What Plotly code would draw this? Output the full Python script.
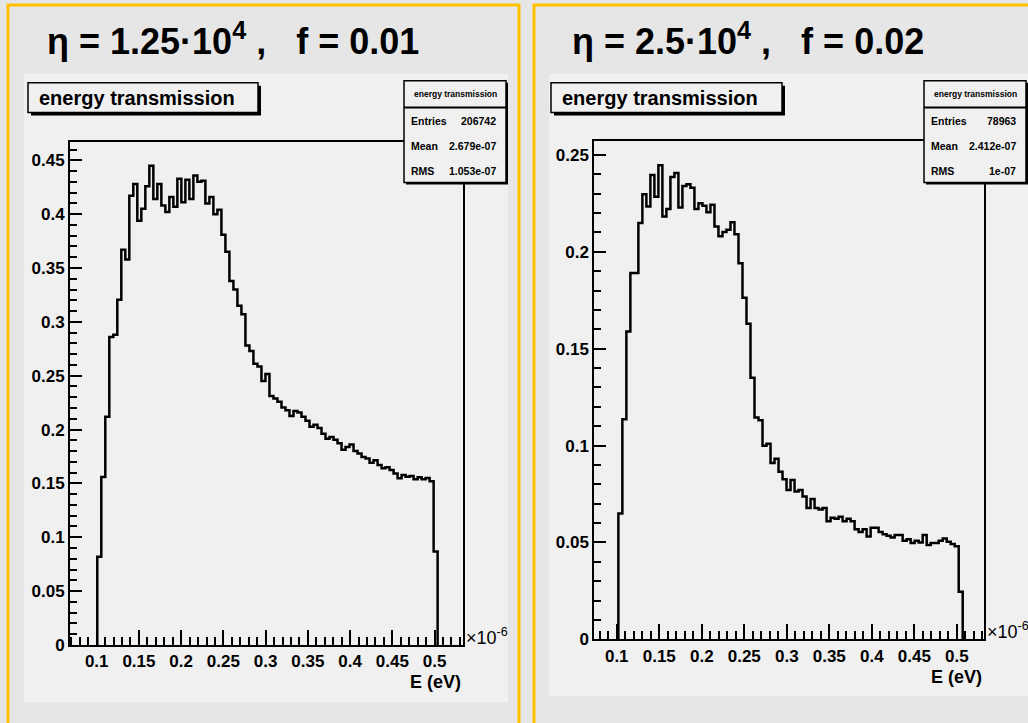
import plotly.graph_objects as go

W, H = 1028, 723

# ---------------- data ----------------
left_bin_start = 0.1007
left_bin_width = 0.00474
left_counts = [
    0.082, 0.156, 0.212, 0.286, 0.288, 0.3205, 0.367, 0.358, 0.417, 0.428,
    0.394, 0.405, 0.426, 0.445, 0.414, 0.428, 0.408, 0.402, 0.416, 0.407,
    0.433, 0.411, 0.432, 0.414, 0.436, 0.430, 0.431, 0.410, 0.416, 0.400,
    0.404, 0.381, 0.365, 0.338, 0.330, 0.315, 0.307, 0.278, 0.273, 0.261,
    0.2585, 0.245, 0.2515, 0.2311, 0.2289, 0.2258, 0.2204, 0.2179, 0.2127, 0.2173,
    0.2158, 0.2118, 0.2082, 0.2027, 0.2045, 0.2015, 0.196, 0.1914, 0.193, 0.1905,
    0.1874, 0.1813, 0.1838, 0.1862, 0.1801, 0.1777, 0.1746, 0.1731, 0.1691, 0.1716,
    0.167, 0.164, 0.1649, 0.1624, 0.1593, 0.1548, 0.1578, 0.1563, 0.1569, 0.1539,
    0.1557, 0.1539, 0.155, 0.152, 0.0867,
]

right_bin_start = 0.1019
right_bin_width = 0.00471
right_counts = [
    0.0649, 0.1136, 0.1589, 0.189, 0.189, 0.2148, 0.2297, 0.2233, 0.2396, 0.2284,
    0.2447, 0.2182, 0.2221, 0.2386, 0.2407, 0.2229, 0.234, 0.2348, 0.2331, 0.2221,
    0.225, 0.2238, 0.2204, 0.2243, 0.2131, 0.208, 0.2102, 0.2114, 0.2153, 0.2091,
    0.1941, 0.1763, 0.1628, 0.135, 0.1145, 0.113, 0.0999, 0.1009, 0.091, 0.0932,
    0.0865, 0.0826, 0.0771, 0.0822, 0.0763, 0.0771, 0.0737, 0.0678, 0.0724, 0.0678,
    0.0670, 0.0678, 0.0610, 0.0627, 0.0622, 0.0632, 0.0610, 0.0622, 0.0610, 0.0568,
    0.0554, 0.0568, 0.0531, 0.0576, 0.0576, 0.0554, 0.0542, 0.0534, 0.0526, 0.0538,
    0.0538, 0.0509, 0.0517, 0.0497, 0.0509, 0.0500, 0.0538, 0.0487, 0.0497, 0.0497,
    0.0509, 0.0520, 0.0504, 0.0492, 0.0480, 0.0246,
]

x_tick_vals = [0.1, 0.15, 0.2, 0.25, 0.3, 0.35, 0.4, 0.45, 0.5]
x_tick_text = ["0.1", "0.15", "0.2", "0.25", "0.3", "0.35", "0.4", "0.45", "0.5"]
left_y_tick_vals = [0, 0.05, 0.1, 0.15, 0.2, 0.25, 0.3, 0.35, 0.4, 0.45]
left_y_tick_text = ["0", "0.05", "0.1", "0.15", "0.2", "0.25", "0.3", "0.35", "0.4", "0.45"]
right_y_tick_vals = [0, 0.05, 0.1, 0.15, 0.2, 0.25]
right_y_tick_text = ["0", "0.05", "0.1", "0.15", "0.2", "0.25"]

left_stats = [("Entries", "206742"), ("Mean", "2.679e-07"), ("RMS", "1.053e-07")]
right_stats = [("Entries", "78963"), ("Mean", "2.412e-07"), ("RMS", "1e-07")]
hist_name = "energy transmission"
x_title = "E (eV)"
x_exponent = "×10<sup>-6</sup>"
NB = "\u00a0"
panel_titles = [
    "η = 1.25·10<sup>4</sup>" + NB + "," + NB * 3 + "f = 0.01",
    "η = 2.5·10<sup>4</sup>" + NB + "," + NB * 3 + "f = 0.02",
]

# ---------------- helpers ----------------
def px(x):
    return x / W


def py(y):
    return 1 - y / H


def step_xy(start, width, counts):
    edges = [start + i * width for i in range(len(counts) + 1)]
    xs = [edges[0]] + edges[:-1] + [edges[-1]]
    ys = [0] + list(counts) + [0]
    return xs, ys


FONT = "Liberation Sans, Arial, Helvetica, sans-serif"
BG = "#e6e6e6"
CANVAS = "#f0f0f0"
ORANGE = "#FFC000"

fig = go.Figure()

lx, ly = step_xy(left_bin_start, left_bin_width, left_counts)
rx, ry = step_xy(right_bin_start, right_bin_width, right_counts)
fig.add_trace(go.Scatter(x=lx, y=ly, mode="lines", line=dict(color="black", width=2.5, shape="hv"),
                         xaxis="x", yaxis="y", showlegend=False, hoverinfo="skip"))
fig.add_trace(go.Scatter(x=rx, y=ry, mode="lines", line=dict(color="black", width=2.5, shape="hv"),
                         xaxis="x2", yaxis="y2", showlegend=False, hoverinfo="skip"))

tickfont = dict(family=FONT, size=17, color="black", weight="bold")


def xaxis_cfg(domain, rng, anchor):
    return dict(domain=domain, range=rng, anchor=anchor, showgrid=False, zeroline=False,
                showline=True, linecolor="black", linewidth=2, mirror=True,
                ticks="inside", ticklen=15, tickwidth=1.5, tickcolor="black",
                tickmode="array", tickvals=x_tick_vals, ticktext=x_tick_text,
                tickfont=tickfont,
                minor=dict(tick0=0, dtick=0.01, ticks="inside", ticklen=8, tickwidth=1.5,
                           tickcolor="black", showgrid=False),
                fixedrange=True)


def yaxis_cfg(domain, rng, anchor, vals, text):
    return dict(domain=domain, range=rng, anchor=anchor, showgrid=False, zeroline=False,
                showline=True, linecolor="black", linewidth=2, mirror=True,
                ticks="inside", ticklen=12, tickwidth=1.5, tickcolor="black",
                tickmode="array", tickvals=vals, ticktext=text,
                tickfont=tickfont,
                minor=dict(tick0=0, dtick=0.01, ticks="inside", ticklen=7, tickwidth=1.5,
                           tickcolor="black", showgrid=False),
                fixedrange=True)


# frame geometry (pixels)
L = dict(x0=70, x1=463.3, y0=144, y1=654)
R = dict(x0=594.3, x1=984, y0=143.3, y1=648.3)

fig.update_layout(
    width=W, height=H, autosize=False,
    margin=dict(l=0, r=0, t=0, b=0),
    paper_bgcolor=BG, plot_bgcolor="rgba(0,0,0,0)",
    xaxis=xaxis_cfg([px(L["x0"]), px(L["x1"])], [0.0684, 0.534], "y"),
    yaxis=yaxis_cfg([py(L["y1"]), py(L["y0"])], [0, 0.467], "x", left_y_tick_vals, left_y_tick_text),
    xaxis2=xaxis_cfg([px(R["x0"]), px(R["x1"])], [0.0736, 0.532], "y2"),
    yaxis2=yaxis_cfg([py(R["y1"]), py(R["y0"])], [0, 0.257], "x2", right_y_tick_vals, right_y_tick_text),
)

shapes = []
annotations = []


def rect(x0, y0, x1, y1, fill=None, line_color=None, lw=0, layer="above"):
    shapes.append(dict(type="rect", xref="paper", yref="paper",
                       x0=px(x0), x1=px(x1), y0=py(y1), y1=py(y0),
                       fillcolor=fill if fill else "rgba(0,0,0,0)",
                       line=dict(color=line_color if line_color else "rgba(0,0,0,0)", width=lw),
                       layer=layer))


def line(x0, y0, x1, y1, color="black", lw=1.5, layer="above"):
    shapes.append(dict(type="line", xref="paper", yref="paper",
                       x0=px(x0), x1=px(x1), y0=py(y0), y1=py(y1),
                       line=dict(color=color, width=lw), layer=layer))


def text(x, y, s, size, xanchor="left", yanchor="middle", bold=True, color="black"):
    annotations.append(dict(xref="paper", yref="paper", x=px(x), y=py(y), text=s,
                            showarrow=False, xanchor=xanchor, yanchor=yanchor,
                            font=dict(family=FONT, size=size, color=color,
                                      weight="bold" if bold else "normal")))


# outer orange frames and canvases
rect(8, 5, 519, 740, line_color=ORANGE, lw=3, layer="below")
rect(534, 5, 1040, 740, line_color=ORANGE, lw=3, layer="below")
rect(24, 75, 508, 712, fill=CANVAS, layer="below")
rect(549, 75, 1028, 706, fill=CANVAS, layer="below")

panels = [
    dict(frame=L, title_x=45, tbox=(28, 84, 258, 114), sbox=(404, 82, 506, 185), stats=left_stats,
         ptitle=panel_titles[0]),
    dict(frame=R, title_x=570, tbox=(551, 84, 782, 114), sbox=(924, 82, 1026, 185), stats=right_stats,
         ptitle=panel_titles[1]),
]

for p in panels:
    f = p["frame"]
    # panel header
    text(p["title_x"], 40, p["ptitle"], 36)
    # histogram title box with shadow
    x0, y0, x1, y1 = p["tbox"]
    rect(x0 + 3, y0 + 3, x1 + 3, y1 + 3, fill="black")
    rect(x0, y0, x1, y1, fill=CANVAS, line_color="black", lw=1.5)
    text(x0 + 9, (y0 + y1) / 2, hist_name, 20)
    # stats box with shadow
    x0, y0, x1, y1 = p["sbox"]
    rect(x0 + 2, y0 + 2, x1 + 2, y1 + 2, fill="black")
    rect(x0, y0, x1, y1, fill=CANVAS, line_color="black", lw=1.5)
    line(x0, y0 + 27, x1, y0 + 27, lw=2)
    text((x0 + x1) / 2, y0 + 13.5, hist_name, 8.5, xanchor="center")
    for i, (lab, val) in enumerate(p["stats"]):
        yy = y0 + 41 + i * 25
        text(x0 + 5, yy, lab, 10.5)
        text(x1 - 8, yy, val, 10.5, xanchor="right")
    # axis exponent and title
    text(f["x1"] + 1, f["y1"] - 9, x_exponent, 18, bold=False)
    text(f["x1"], f["y1"] + 38, x_title, 18, xanchor="right")

fig.update_layout(shapes=shapes, annotations=annotations)
fig.write_html("out.html", config={"displayModeBar": False},
               post_script="document.body.style.margin='0px';document.body.style.padding='0px';")
